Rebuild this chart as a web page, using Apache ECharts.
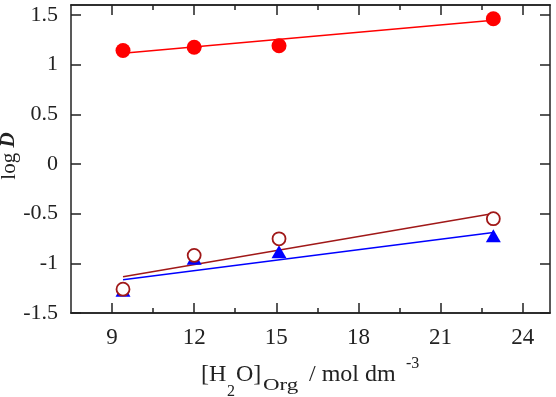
<!DOCTYPE html>
<html><head><meta charset="utf-8">
<script src="https://cdn.jsdelivr.net/npm/echarts@6/dist/echarts.min.js"></script>
<style>html,body{margin:0;padding:0;background:#fff}#c{width:556px;height:397px}</style>
</head><body><div id="c"></div>
<script>
// ---- data ----
const xMajorTicks = [9, 12, 15, 18, 21, 24];
const xMinorTicks = [10.5, 13.5, 16.5, 19.5, 22.5];
const yTicks = [-1.5, -1, -0.5, 0, 0.5, 1, 1.5];
const redX = [9.4, 12.0, 15.1, 22.93];
const redY = [1.142, 1.175, 1.19, 1.462];
const openX = [9.4, 12.0, 15.1, 22.93];
const openY = [-1.26, -0.92, -0.753, -0.551];
const blueX = [9.4, 12.0, 15.1, 22.93];
const blueY = [-1.27, -0.95, -0.884, -0.723];
const redFitX = [9.4, 22.93];
const redFitY = [1.115, 1.447];
const darkFitX = [9.4, 22.93];
const darkFitY = [-1.136, -0.498];
const blueFitX = [9.4, 22.93];
const blueFitY = [-1.166, -0.690];

const pairs = (xs, ys) => xs.map((x, i) => [x, ys[i]]);
const FONT = '"Liberation Serif","Times New Roman",serif';
const AX = '#222';
const lineStyle = {color: AX, width: 1.5};

function xAxis(pos, ticks, len, labels) {
  return {
    type: 'value', position: pos, min: 7.5, max: 25,
    axisLine: {show: true, onZero: false, lineStyle},
    axisTick: {show: true, inside: true, length: len, customValues: ticks, lineStyle},
    axisLabel: labels ? {show: true, customValues: ticks, margin: 13, color: AX,
      fontFamily: FONT, fontSize: 23} : {show: false},
    splitLine: {show: false}
  };
}
function yAxis(pos, labels) {
  return {
    type: 'value', position: pos, min: -1.5, max: 1.6,
    axisLine: {show: true, onZero: false, lineStyle},
    axisTick: {show: true, inside: true, length: 10, customValues: yTicks, lineStyle},
    axisLabel: labels ? {show: true, customValues: yTicks, margin: 13, color: AX,
      fontFamily: FONT, fontSize: 22, formatter: v => String(v)} : {show: false},
    splitLine: {show: false}
  };
}

const chart = echarts.init(document.getElementById('c'), null, {renderer: 'canvas'});
const darkRed = '#a01818';
chart.setOption({
  animation: false,
  backgroundColor: '#fff',
  grid: {left: 71, top: 5, right: 6, bottom: 84, containLabel: false},
  xAxis: [
    xAxis('bottom', xMajorTicks, 10, true),
    xAxis('bottom', xMinorTicks, 5, false),
    xAxis('top', xMajorTicks, 10, false),
    xAxis('top', xMinorTicks, 5, false)
  ],
  yAxis: [yAxis('left', true), yAxis('right', false)],
  series: [
    {type: 'line', data: pairs(redFitX, redFitY), symbol: 'none', lineStyle: {color: '#ff0000', width: 1.5}, z: 2},
    {type: 'line', data: pairs(darkFitX, darkFitY), symbol: 'none', lineStyle: {color: darkRed, width: 1.5}, z: 2},
    {type: 'line', data: pairs(blueFitX, blueFitY), symbol: 'none', lineStyle: {color: '#0000ff', width: 1.5}, z: 2},
    {type: 'scatter', data: pairs(blueX, blueY), symbol: 'triangle', symbolSize: [15, 13],
      itemStyle: {color: '#0000ff', opacity: 1}, z: 3},
    {type: 'scatter', data: pairs(openX, openY), symbol: 'circle', symbolSize: 13,
      itemStyle: {color: '#fff', borderColor: darkRed, borderWidth: 1.8, opacity: 1}, z: 4},
    {type: 'scatter', data: pairs(redX, redY), symbol: 'circle', symbolSize: 15,
      itemStyle: {color: '#ff0000', opacity: 1}, z: 4}
  ],
  graphic: [
    {type: 'text', x: 9, y: 156, rotation: Math.PI / 2,
      style: {text: '{a|log }{b|D}', align: 'center', verticalAlign: 'middle',
        rich: {a: {fontFamily: FONT, fontSize: 21, fill: AX},
               b: {fontFamily: FONT, fontSize: 21, fontStyle: 'italic', fontWeight: 'bold', fill: AX}}}},
    {type: 'text', x: 201, y: 375, style: {text: '[H', font: '24px ' + FONT, fill: AX, verticalAlign: 'middle'}},
    {type: 'text', x: 227, y: 392, style: {text: '2', font: '16px ' + FONT, fill: AX, verticalAlign: 'middle'}},
    {type: 'text', x: 236, y: 375, style: {text: 'O]', font: '24px ' + FONT, fill: AX, verticalAlign: 'middle'}},
    {type: 'text', x: 263, y: 386, scaleX: 1.35, style: {text: 'Org', font: '17px ' + FONT, fill: AX, verticalAlign: 'middle'}},
    {type: 'text', x: 309, y: 375, style: {text: '/ mol dm', font: '24px ' + FONT, fill: AX, verticalAlign: 'middle'}},
    {type: 'text', x: 406, y: 364, style: {text: '-3', font: '16px ' + FONT, fill: AX, verticalAlign: 'middle'}}
  ]
});
</script></body></html>
